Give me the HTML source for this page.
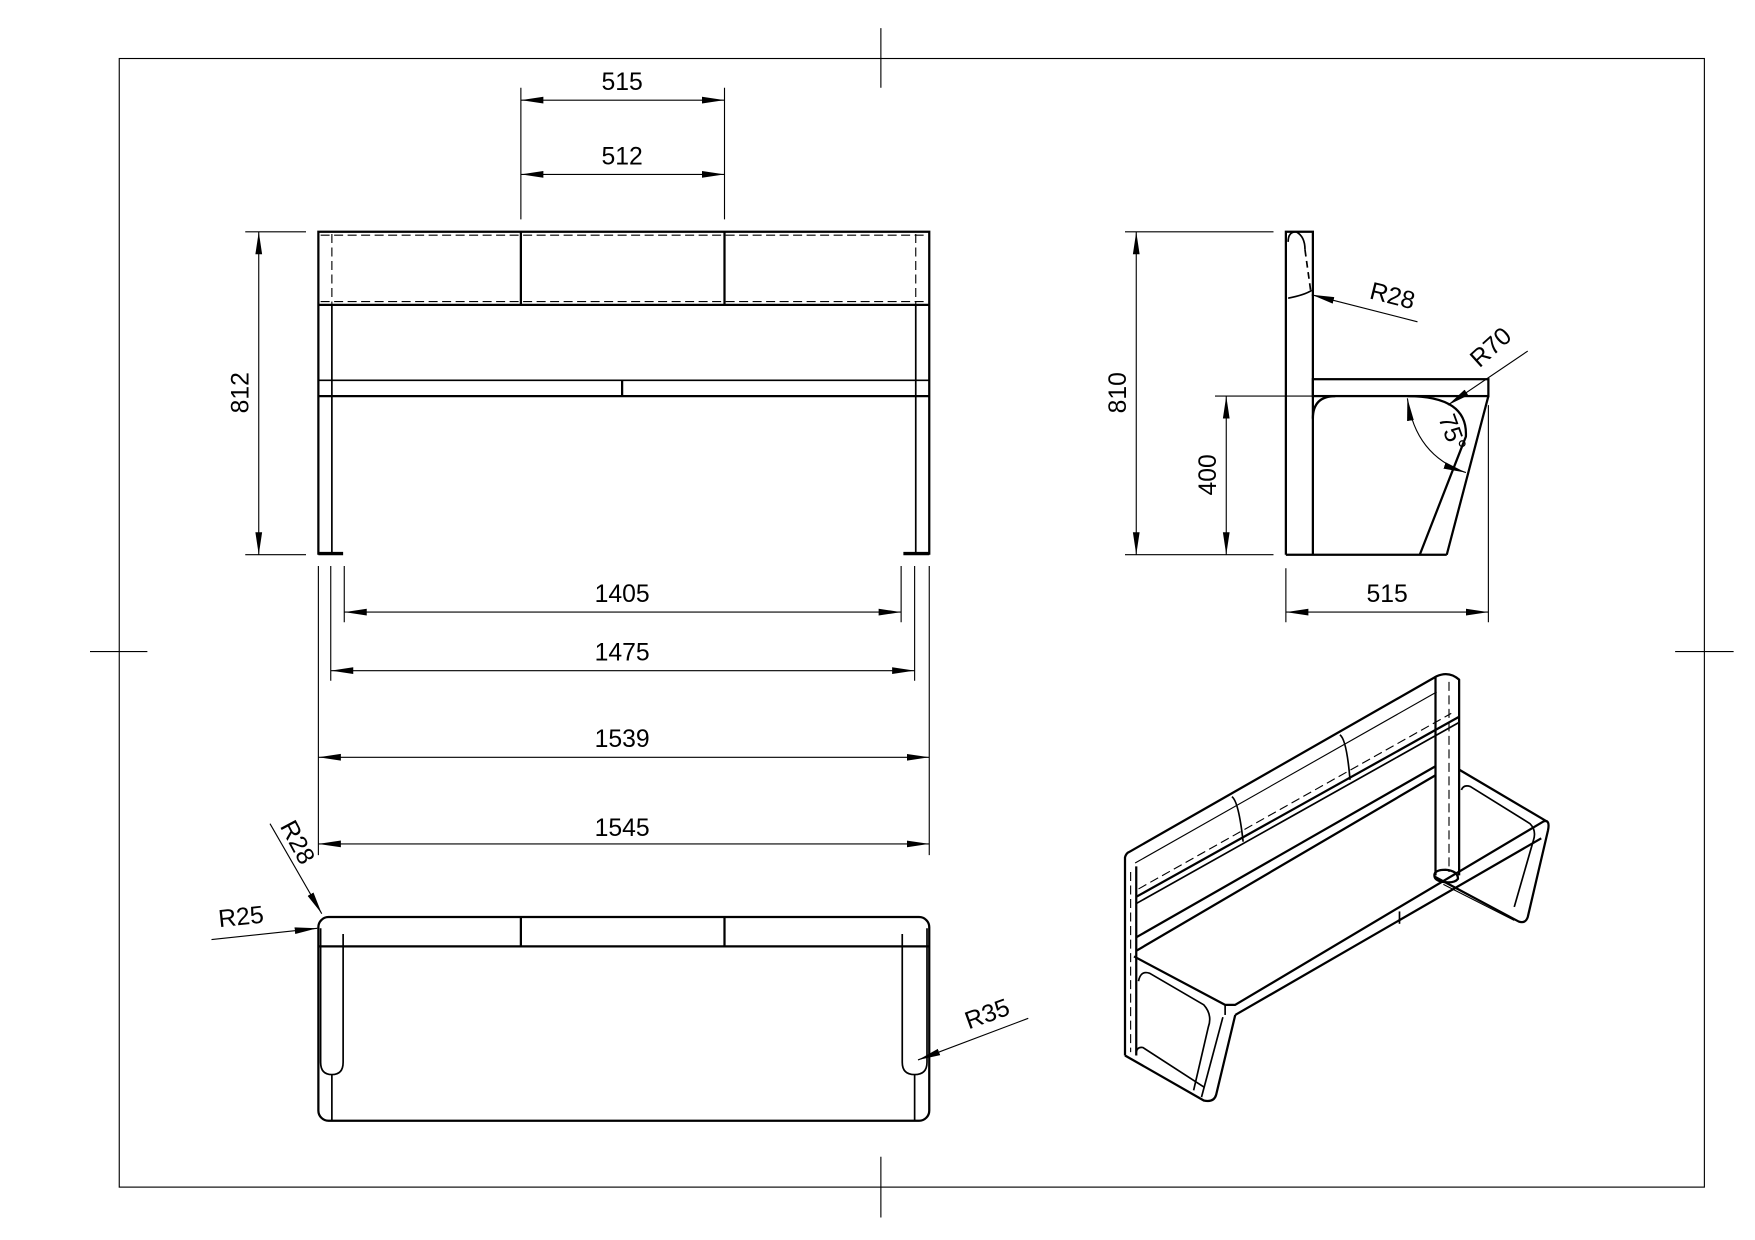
<!DOCTYPE html>
<html><head><style>
html,body{margin:0;padding:0;background:#fff;}
svg{display:block;}
text{font-family:"Liberation Sans",sans-serif;font-size:22px;fill:#000;}
</style></head><body>
<svg width="1755" height="1240" viewBox="0 0 1560 1102" preserveAspectRatio="none" xmlns="http://www.w3.org/2000/svg">
<defs>
<marker id="a" viewBox="0 0 20 8" refX="20" refY="4" markerWidth="20" markerHeight="8" markerUnits="userSpaceOnUse" orient="auto-start-reverse"><path d="M0,1 L20,4 L0,7 z" fill="#000"/></marker>
</defs>
<g fill="none" stroke="#000" stroke-width="1">
<rect x="106" y="52" width="1409" height="1003"/>
<line x1="783" y1="25" x2="783" y2="78"/><line x1="783" y1="1028" x2="783" y2="1082"/>
<line x1="80" y1="579" x2="131" y2="579"/><line x1="1489" y1="579" x2="1541" y2="579"/>
</g>
<!-- front view -->
<g fill="none" stroke="#000" stroke-width="2">
<path d="M283,493 L283,206 L826,206 L826,493"/>
<line x1="283" y1="271" x2="826" y2="271"/>
<line x1="463" y1="206" x2="463" y2="271"/><line x1="644" y1="206" x2="644" y2="271"/>
<line x1="283" y1="338" x2="826" y2="338" stroke-width="1.5"/>
<line x1="283" y1="352" x2="826" y2="352"/>
<line x1="553" y1="338" x2="553" y2="352"/>
<line x1="295" y1="271" x2="295" y2="493" stroke-width="1.5"/>
<line x1="814" y1="271" x2="814" y2="493" stroke-width="1.5"/>
<line x1="283" y1="492" x2="305" y2="492" stroke-width="3"/>
<line x1="803" y1="492" x2="826" y2="492" stroke-width="3"/>
</g>
<g fill="none" stroke="#000" stroke-width="1" stroke-dasharray="8,4">
<line x1="295" y1="208" x2="295" y2="271"/><line x1="814" y1="208" x2="814" y2="271"/>
<line x1="285" y1="209" x2="824" y2="209"/><line x1="285" y1="268" x2="824" y2="268"/>
</g>
<!-- front dims -->
<g fill="none" stroke="#000" stroke-width="1">
<line x1="463" y1="78" x2="463" y2="195"/><line x1="644" y1="78" x2="644" y2="195"/>
<line x1="463" y1="89" x2="644" y2="89" marker-start="url(#a)" marker-end="url(#a)"/>
<line x1="463" y1="155" x2="644" y2="155" marker-start="url(#a)" marker-end="url(#a)"/>
<line x1="218" y1="206" x2="272" y2="206"/><line x1="218" y1="493" x2="272" y2="493"/>
<line x1="230" y1="206" x2="230" y2="493" marker-start="url(#a)" marker-end="url(#a)"/>
<line x1="283" y1="503" x2="283" y2="760"/><line x1="826" y1="503" x2="826" y2="760"/>
<line x1="294" y1="503" x2="294" y2="605"/><line x1="813" y1="503" x2="813" y2="605"/>
<line x1="306" y1="503" x2="306" y2="553"/><line x1="801" y1="503" x2="801" y2="553"/>
<line x1="306" y1="544" x2="801" y2="544" marker-start="url(#a)" marker-end="url(#a)"/>
<line x1="294" y1="596" x2="813" y2="596" marker-start="url(#a)" marker-end="url(#a)"/>
<line x1="283" y1="673" x2="826" y2="673" marker-start="url(#a)" marker-end="url(#a)"/>
<line x1="283" y1="750" x2="826" y2="750" marker-start="url(#a)" marker-end="url(#a)"/>
</g>
<text x="553" y="80" text-anchor="middle">515</text>
<text x="553" y="146" text-anchor="middle">512</text>
<text x="221" y="349" text-anchor="middle" transform="rotate(-90 221 349)">812</text>
<text x="553" y="535" text-anchor="middle">1405</text>
<text x="553" y="587" text-anchor="middle">1475</text>
<text x="553" y="664" text-anchor="middle">1539</text>
<text x="553" y="743" text-anchor="middle">1545</text>
<!-- top view -->
<g fill="none" stroke="#000" stroke-width="2">
<rect x="283" y="815" width="543" height="181" rx="9"/>
<line x1="283" y1="841" x2="826" y2="841"/>
<line x1="463" y1="815" x2="463" y2="841"/><line x1="644" y1="815" x2="644" y2="841"/>
<path d="M285,825 L285,944 Q285,955 295,955 Q305,955 305,944 L305,830" stroke-width="1.5"/>
<path d="M824,825 L824,944 Q824,955 813,955 Q802,955 802,944 L802,830" stroke-width="1.5"/>
<line x1="295" y1="955" x2="295" y2="996" stroke-width="1.5"/>
<line x1="813" y1="955" x2="813" y2="996" stroke-width="1.5"/>
</g>
<g fill="none" stroke="#000" stroke-width="1">
<line x1="240" y1="732" x2="286" y2="812" marker-end="url(#a)"/>
<line x1="188" y1="835" x2="282" y2="825" marker-end="url(#a)"/>
<line x1="914" y1="905" x2="816" y2="942" marker-end="url(#a)"/>
</g>
<text x="258" y="752" text-anchor="middle" transform="rotate(62 258 752)">R28</text>
<text x="215" y="822" text-anchor="middle" transform="rotate(-6 215 822)">R25</text>
<text x="880" y="908" text-anchor="middle" transform="rotate(-20 880 908)">R35</text>
<!-- side view -->
<g fill="none" stroke="#000" stroke-width="2">
<path d="M1143,493 L1143,206 L1167,206 L1167,493"/>
<line x1="1143" y1="493" x2="1286" y2="493"/>
<rect x="1167" y="337" width="156" height="15"/>
<path d="M1323,352 L1286,493"/>
<path d="M1251,352 Q1305,352 1303,388 L1262,493"/>
<path d="M1167,372 Q1167,352 1187,352"/>
<path d="M1145,215 Q1145,206 1152,206 Q1160,210 1160,222" stroke-width="1.5"/>
<path d="M1160,222 L1165,258" stroke-dasharray="6,4" stroke-width="1.5"/>
<path d="M1145,265 Q1160,262 1166,258" stroke-width="1.5"/>
</g>
<g fill="none" stroke="#000" stroke-width="1">
<line x1="1000" y1="206" x2="1132" y2="206"/><line x1="1000" y1="493" x2="1132" y2="493"/>
<line x1="1010" y1="206" x2="1010" y2="493" marker-start="url(#a)" marker-end="url(#a)"/>
<line x1="1080" y1="352" x2="1175" y2="352"/>
<line x1="1090" y1="352" x2="1090" y2="493" marker-start="url(#a)" marker-end="url(#a)"/>
<line x1="1143" y1="505" x2="1143" y2="553"/><line x1="1323" y1="360" x2="1323" y2="553"/>
<line x1="1143" y1="544" x2="1323" y2="544" marker-start="url(#a)" marker-end="url(#a)"/>
<line x1="1260" y1="286" x2="1166" y2="262" marker-end="url(#a)"/>
<line x1="1358" y1="312" x2="1287" y2="360" marker-end="url(#a)"/>
<path d="M1251,354 Q1258,405 1303,420" marker-start="url(#a)" marker-end="url(#a)"/>
</g>
<text x="1236" y="270" text-anchor="middle" transform="rotate(14 1236 270)">R28</text>
<text x="1330" y="314" text-anchor="middle" transform="rotate(-42 1330 314)">R70</text>
<text x="1284" y="387" text-anchor="middle" transform="rotate(70 1284 387)">75°</text>
<text x="1001" y="349" text-anchor="middle" transform="rotate(-90 1001 349)">810</text>
<text x="1081" y="422" text-anchor="middle" transform="rotate(-90 1081 422)">400</text>
<text x="1233" y="535" text-anchor="middle">515</text>
<!-- iso view -->
<g fill="none" stroke="#000" stroke-width="2" stroke-linejoin="round">
<!-- back panel -->
<path d="M1000,938 L1000,762 Q1001,758 1004,757 L1277,601 Q1288,596 1297,604 L1297,778"/>
<line x1="1010" y1="770" x2="1010" y2="938"/>
<line x1="1009" y1="767" x2="1277" y2="615" stroke-width="1"/>
<line x1="1276" y1="601" x2="1276" y2="778"/>
<path d="M1275,778 Q1275,773 1285,773 Q1296,774 1296,781 Q1293,785 1284,784 Q1275,783 1275,778"/>
<line x1="1010" y1="797" x2="1297" y2="637"/>
<line x1="1010" y1="803" x2="1297" y2="642" stroke-width="1.5"/>
<path d="M1095,708 Q1101,712 1105,748" stroke-width="1.5"/>
<path d="M1191,653 Q1197,657 1200,693" stroke-width="1.5"/>
<!-- seat rails -->
<line x1="1010" y1="833" x2="1276" y2="681"/>
<line x1="1010" y1="845" x2="1276" y2="689"/>
<!-- seat -->
<path d="M1008,850 L1089,893 Q1092,893 1098,893 L1372,730 Q1378,728 1376,738"/>
<line x1="1098" y1="902" x2="1370" y2="745"/>
<line x1="1297" y1="684" x2="1375" y2="730"/>
<line x1="1089" y1="893" x2="1089" y2="902" stroke-width="1.5"/>
<line x1="1244" y1="810" x2="1244" y2="821" stroke-width="1.5"/>
<!-- left leg -->
<path d="M1098,902 L1081,973 Q1079,980 1070,978 L1000,938"/>
<path d="M1087,904 L1068,975" stroke-width="1.5"/>
<path d="M1012,872 Q1014,862 1022,865 L1070,893 Q1078,902 1074,913 L1061,969" stroke-width="1.5"/>
<path d="M1010,935 Q1011,930 1016,931 L1070,966" stroke-width="1.5"/>
<!-- right leg -->
<path d="M1376,738 L1358,815 Q1356,821 1350,819 L1275,779"/>
<path d="M1299,702 Q1301,697 1307,699 L1360,732 Q1366,738 1363,747 L1346,806" stroke-width="1.5"/>
<line x1="1283" y1="786" x2="1346" y2="818" stroke-width="1"/>
</g>
<g fill="none" stroke="#000" stroke-width="1" stroke-dasharray="8,4">
<line x1="1012" y1="790" x2="1290" y2="634"/>
<line x1="1005" y1="775" x2="1005" y2="935"/>
<line x1="1288" y1="606" x2="1288" y2="775"/>
</g>
</svg>
</body></html>
